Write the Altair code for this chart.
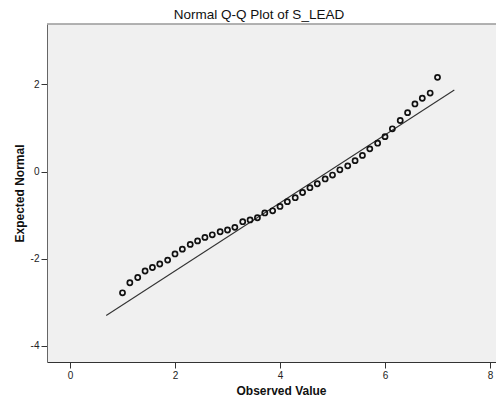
import altair as alt
import pandas as pd

observed = [1.00, 1.14, 1.29, 1.43, 1.57, 1.71, 1.86, 2.00, 2.14, 2.29, 2.43,
            2.57, 2.71, 2.86, 3.00, 3.14, 3.29, 3.43, 3.57, 3.71, 3.86, 4.00,
            4.14, 4.29, 4.43, 4.57, 4.71, 4.86, 5.00, 5.14, 5.29, 5.43, 5.57,
            5.71, 5.86, 6.00, 6.14, 6.29, 6.43, 6.57, 6.71, 6.86, 7.00]
# Expected normal quantiles
expected = [-2.78, -2.55, -2.43, -2.28, -2.20, -2.12, -2.03, -1.89, -1.78, -1.67,
            -1.59, -1.51, -1.45, -1.38, -1.34, -1.28, -1.15, -1.11, -1.06, -0.95,
            -0.90, -0.80, -0.69, -0.60, -0.48, -0.37, -0.28, -0.17, -0.08, 0.04,
            0.13, 0.25, 0.37, 0.52, 0.65, 0.80, 0.98, 1.17, 1.35, 1.55, 1.68,
            1.80, 2.16]

# Reference line end points
line_x = [0.69, 7.32]
line_y = [-3.30, 1.87]

x_ticks = [0, 2, 4, 6, 8]
y_ticks = [-4, -2, 0, 2]

pts = pd.DataFrame({"obs": observed, "exp": expected})
ln = pd.DataFrame({"obs": line_x, "exp": line_y})

FONT = "Liberation Sans"
W, H = 449, 338

xscale = alt.Scale(domain=[-0.438, 8.114], nice=False, zero=False)
yscale = alt.Scale(domain=[-4.367, 3.383], nice=False, zero=False)

label_expr = "datum.value < 0 ? '-' + abs(datum.value) : '' + datum.value"

xaxis = alt.Axis(values=x_ticks, title="Observed Value", grid=False,
                 tickSize=6, labelPadding=2, labelFontSize=10, labelFont=FONT,
                 labelColor="#222", titleFont=FONT, titleFontSize=12,
                 titleFontWeight="bold", titleColor="#111", titlePadding=5,
                 titleX=234, titleAlign="center",
                 domainColor="#333", tickColor="#333", labelFlush=False,
                 labelExpr=label_expr)
yaxis = alt.Axis(values=y_ticks, title="Expected Normal", grid=False,
                 tickSize=6, labelPadding=2, labelFontSize=10, labelFont=FONT,
                 labelColor="#222", titleFont=FONT, titleFontSize=12,
                 titleFontWeight="bold", titleColor="#111", titlePadding=4,
                 domainColor="#666", tickColor="#333", labelFlush=False,
                 labelExpr=label_expr)

line = alt.Chart(ln).mark_line(color="#333", strokeWidth=1.1, clip=True).encode(
    x=alt.X("obs:Q", scale=xscale, axis=xaxis),
    y=alt.Y("exp:Q", scale=yscale, axis=yaxis),
)

points = alt.Chart(pts).mark_point(shape="circle", filled=False, color="#111",
                                   size=26, strokeWidth=1.7, opacity=1).encode(
    x=alt.X("obs:Q", scale=xscale),
    y=alt.Y("exp:Q", scale=yscale),
)

top_border = alt.Chart(ln).mark_rule(color="#999", strokeWidth=1).encode(
    x=alt.value(0), x2=alt.value(W), y=alt.value(0)
)

chart = alt.layer(line, points, top_border).properties(
    width=W,
    height=H,
    background="white",
    title=alt.TitleParams("Normal Q-Q Plot of S_LEAD", font=FONT, fontSize=13.5,
                          fontWeight="normal", color="#111", anchor="middle",
                          dx=-12.5, offset=2),
    autosize=alt.AutoSizeParams(type="none"),
    padding={"left": 39, "top": 16, "right": 0, "bottom": 35},
).configure_view(
    fill="#f0f0f0", stroke=None
)

chart.save("out.html", embed_options={"renderer": "svg", "actions": False})
